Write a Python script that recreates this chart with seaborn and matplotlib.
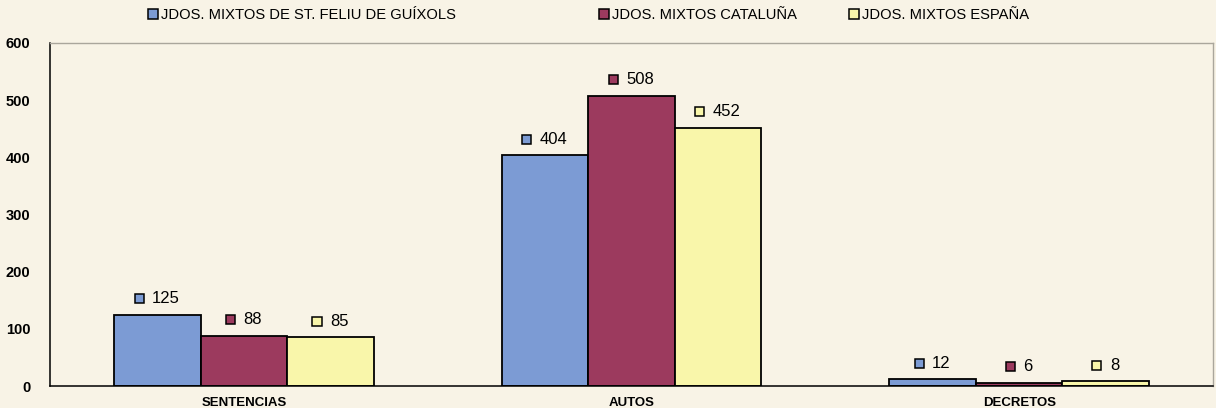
import matplotlib
matplotlib.use("Agg")
import matplotlib.pyplot as plt
from matplotlib.patches import Patch, Rectangle
from matplotlib.offsetbox import AnnotationBbox, HPacker, DrawingArea, TextArea
import seaborn as sns
import pandas as pd

# Resoluciones por tipo y por órgano
categorias = ["SENTENCIAS", "AUTOS", "DECRETOS"]
series = [
    "JDOS. MIXTOS DE ST. FELIU DE GUÍXOLS",
    "JDOS. MIXTOS CATALUÑA",
    "JDOS. MIXTOS ESPAÑA",
]
valores_guixols = [125, 404, 12]
valores_cataluna = [88, 508, 6]
valores_espana = [85, 452, 8]
yticks = [0, 100, 200, 300, 400, 500, 600]

colores = ["#7c9bd4", "#9c3a5e", "#f9f6aa"]
fondo = "#f8f3e6"

df = pd.DataFrame({
    "tipo": categorias * 3,
    "serie": [s for s in series for _ in categorias],
    "valor": valores_guixols + valores_cataluna + valores_espana,
})

sns.set_style("white")
plt.rcParams["font.family"] = ["Liberation Sans", "DejaVu Sans"]
plt.rcParams["text.color"] = "black"
plt.rcParams["xtick.color"] = "black"
plt.rcParams["ytick.color"] = "black"
plt.rcParams["axes.labelcolor"] = "black"

fig = plt.figure(figsize=(12.16, 4.08), dpi=100, facecolor=fondo)
ax = fig.add_axes([50 / 1216, 1 - 386 / 408, (1213 - 50) / 1216, (386 - 43) / 408])
ax.set_facecolor(fondo)

sns.barplot(
    data=df, x="tipo", y="valor", hue="serie",
    order=categorias, hue_order=series, palette=colores,
    width=0.67, gap=0, edgecolor="black", linewidth=1.3,
    legend=False, ax=ax, saturation=1,
)

ax.set_xlim(-0.5, 2.5)
ax.set_ylim(0, 600)
ax.set_yticks(yticks)
ax.set_yticklabels([str(t) for t in yticks], fontsize=10.5, fontweight="bold")
ax.set_xlabel("")
ax.set_ylabel("")
ax.tick_params(axis="y", length=3, width=1, color="black", pad=11, direction="out")
ax.tick_params(axis="x", which="major", length=0, pad=8)
ax.set_xticks([-0.5, 0.5, 1.5, 2.5], minor=True)
ax.tick_params(axis="x", which="minor", length=4, width=1, color="black", direction="out")
for lbl in ax.get_xticklabels():
    lbl.set_fontsize(9.5)
    lbl.set_fontweight("bold")

for side in ["left", "bottom"]:
    ax.spines[side].set_color("black")
    ax.spines[side].set_linewidth(1.1)
for side in ["top", "right"]:
    ax.spines[side].set_color("#aaa69c")
    ax.spines[side].set_linewidth(1)
    ax.spines[side].set_visible(True)

# Etiquetas de valor: cuadrado del color de la serie + número
for cont, color in zip(ax.containers, colores):
    for bar in cont:
        h = bar.get_height()
        x = bar.get_x() + bar.get_width() / 2
        da = DrawingArea(6.5, 6.5, 0, 0)
        da.add_artist(Rectangle((0, 0), 6.5, 6.5, facecolor=color, edgecolor="black", linewidth=1.1))
        ta = TextArea(f"{h:.0f}", textprops=dict(fontsize=12, color="black"))
        box = HPacker(children=[da, ta], align="center", pad=0, sep=6)
        ab = AnnotationBbox(box, (x, h), xybox=(0, 6), xycoords="data",
                            boxcoords="offset points", box_alignment=(0.5, 0),
                            frameon=False, pad=0, annotation_clip=False)
        ax.add_artist(ab)

# Leyenda superior, una entrada por serie
posiciones = [148, 599, 849]
for serie, color, px in zip(series, colores, posiciones):
    handle = Patch(facecolor=color, edgecolor="black", linewidth=1.1)
    fig.legend([handle], [serie], loc="center left",
               bbox_to_anchor=(px / 1216, 1 - 15 / 408),
               frameon=False, fontsize=10.6, handlelength=0.65, handleheight=0.65,
               handletextpad=0.25, borderpad=0, borderaxespad=0,
               labelcolor="black")

fig.savefig("out.png", dpi=100, facecolor=fondo)
